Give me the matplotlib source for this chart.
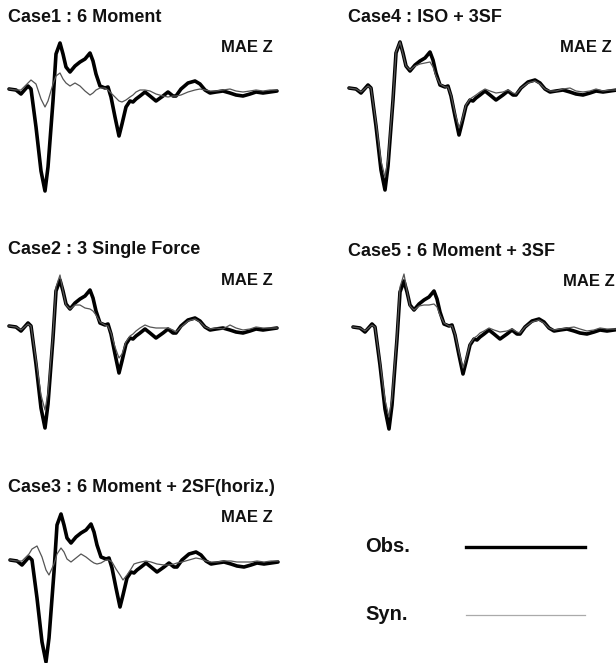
import matplotlib

matplotlib.use("Agg")

import matplotlib.pyplot as plt

# time samples (arbitrary units) and normalized amplitudes
t = [0, 7, 12, 19, 22, 27, 32, 36, 39, 44, 47, 51, 54, 57, 61, 66, 71, 76, 81, 84,
     87, 91, 96, 99, 102, 106, 110, 113, 117, 121, 124, 127, 131, 136, 141, 147, 154, 159, 164, 167,
     172, 179, 186, 191, 196, 201, 207, 214, 221, 227, 234, 241, 247, 254, 261, 268]

obs = [0.01, 0.00, -0.04, 0.04, 0.01, -0.37, -0.81, -1.01, -0.77, -0.11,
       0.36, 0.47, 0.36, 0.23, 0.18, 0.24, 0.28, 0.31, 0.37, 0.29,
       0.16, 0.04, 0.02, 0.03, -0.07, -0.27, -0.46, -0.34, -0.17, -0.11,
       -0.12, -0.09, -0.06, -0.02, -0.06, -0.11, -0.06, -0.02, -0.06, -0.06,
       0.01, 0.07, 0.09, 0.06, 0.00, -0.03, -0.02, -0.01, -0.03, -0.05,
       -0.06, -0.04, -0.02, -0.03, -0.02, -0.01]

syn_case1 = [0.01, 0.00, 0.00, 0.07, 0.10, 0.06, -0.09, -0.17, -0.11, 0.06,
             0.14, 0.17, 0.11, 0.07, 0.04, 0.07, 0.04, -0.01, -0.05, -0.03,
             0.00, 0.02, 0.02, 0.00, -0.03, -0.07, -0.11, -0.12, -0.10, -0.07,
             -0.05, -0.02, 0.00, 0.00, -0.01, -0.04, -0.06, -0.07, -0.06, -0.06,
             -0.05, -0.02, 0.00, 0.01, 0.00, -0.01, -0.01, 0.00, 0.01, -0.01,
             -0.02, -0.01, 0.00, -0.01, 0.00, 0.00]

syn_case2 = [0.01, 0.00, -0.03, 0.03, 0.01, -0.33, -0.68, -0.83, -0.66, -0.08,
             0.40, 0.52, 0.36, 0.22, 0.18, 0.22, 0.22, 0.19, 0.18, 0.16,
             0.12, 0.05, 0.02, 0.01, -0.06, -0.20, -0.31, -0.27, -0.15, -0.09,
             -0.07, -0.04, -0.01, 0.02, 0.00, -0.01, -0.01, -0.01, -0.03, -0.05,
             0.00, 0.06, 0.08, 0.05, 0.00, -0.02, -0.01, -0.02, 0.02, -0.01,
             -0.03, -0.02, 0.00, -0.01, -0.01, -0.01]

syn_case3 = [0.01, 0.00, 0.00, 0.07, 0.12, 0.15, 0.04, -0.09, -0.14, -0.03,
             0.07, 0.13, 0.09, 0.02, -0.01, 0.03, 0.07, 0.04, 0.00, -0.02,
             -0.03, -0.02, 0.01, 0.01, -0.01, -0.08, -0.14, -0.19, -0.14, -0.08,
             -0.03, -0.02, -0.01, 0.00, -0.01, -0.03, -0.04, -0.04, -0.03, -0.02,
             -0.01, 0.01, 0.03, 0.02, 0.00, -0.01, -0.01, 0.00, 0.00, -0.01,
             -0.01, -0.01, 0.00, -0.01, 0.00, 0.00]

syn_case4 = [0.01, 0.00, -0.03, 0.03, 0.01, -0.34, -0.72, -0.88, -0.70, -0.10,
             0.37, 0.47, 0.35, 0.23, 0.19, 0.23, 0.25, 0.26, 0.27, 0.22,
             0.13, 0.05, 0.02, 0.02, -0.06, -0.24, -0.39, -0.31, -0.16, -0.10,
             -0.08, -0.06, -0.03, 0.00, -0.02, -0.04, -0.03, -0.01, -0.04, -0.05,
             0.01, 0.06, 0.08, 0.05, 0.00, -0.02, -0.02, 0.00, 0.01, -0.02,
             -0.03, -0.02, 0.00, -0.02, -0.01, -0.01]

syn_case5 = [0.01, 0.00, -0.03, 0.03, 0.01, -0.34, -0.72, -0.89, -0.70, -0.08,
             0.41, 0.54, 0.37, 0.22, 0.18, 0.22, 0.23, 0.23, 0.24, 0.21,
             0.13, 0.05, 0.02, 0.02, -0.06, -0.24, -0.40, -0.31, -0.16, -0.10,
             -0.08, -0.05, -0.03, 0.00, -0.02, -0.04, -0.03, -0.01, -0.04, -0.05,
             0.01, 0.06, 0.08, 0.05, 0.00, -0.02, -0.01, 0.00, 0.01, -0.01,
             -0.03, -0.02, 0.00, -0.01, -0.01, -0.01]

titles = ["Case1 : 6 Moment", "Case2 : 3 Single Force", "Case3 : 6 Moment + 2SF(horiz.)",
          "Case4 : ISO + 3SF", "Case5 : 6 Moment + 3SF"]
syns = [syn_case1, syn_case2, syn_case3, syn_case4, syn_case5]
component = "MAE Z"

W, H = 616, 663
FONT = "Liberation Sans"
TXT = "#111111"

# pixel layout: (trace start x, baseline y, title x, title y, label right x, label y)
layout = [(9, 90, 8, 17, 273, 48),
          (9, 327, 8, 250, 273, 280),
          (10, 561, 8, 488, 273, 518),
          (349, 89, 348, 17, 612, 48),
          (353, 328, 348, 251, 615, 281)]


def fx(px):
    return px / W


def fy(py):
    return 1 - py / H


def draw_panel(fig, title, syn, pos):
    x0, base, tx, ty, lx, ly = pos
    top, bottom = 0.6, -1.1
    ax = fig.add_axes([fx(x0), fy(base - bottom * 100), 268 / W, (top - bottom) * 100 / H])
    ax.plot(t, obs, color="black", lw=2.6, solid_joinstyle="round",
            solid_capstyle="round", clip_on=False)
    ax.plot(t, syn, color="#555555", lw=0.9, solid_joinstyle="round", clip_on=False)
    ax.set_xlim(0, 268)
    ax.set_ylim(bottom, top)
    ax.axis("off")
    fig.text(fx(tx), fy(ty), title, ha="left", va="center", fontsize=13,
             fontweight="bold", family=FONT, color=TXT)
    fig.text(fx(lx), fy(ly), component, ha="right", va="center", fontsize=12,
             fontweight="bold", family=FONT, color=TXT)


def main():
    fig = plt.figure(figsize=(W / 100, H / 100), dpi=100)
    for title, syn, pos in zip(titles, syns, layout):
        draw_panel(fig, title, syn, pos)

    # legend drawn by hand like the original
    lax = fig.add_axes([0, 0, 1, 1])
    lax.set_xlim(0, W)
    lax.set_ylim(H, 0)
    lax.axis("off")
    lax.text(365, 547, "Obs.", ha="left", va="center", fontsize=14.5,
             fontweight="bold", family=FONT, color=TXT)
    lax.text(365, 615, "Syn.", ha="left", va="center", fontsize=14.5,
             fontweight="bold", family=FONT, color=TXT)
    lax.plot([466, 585], [547, 547], color="black", lw=2.4)
    lax.plot([466, 585], [615, 615], color="#aaaaaa", lw=0.9)

    plt.savefig("out.png", dpi=100)


main()
